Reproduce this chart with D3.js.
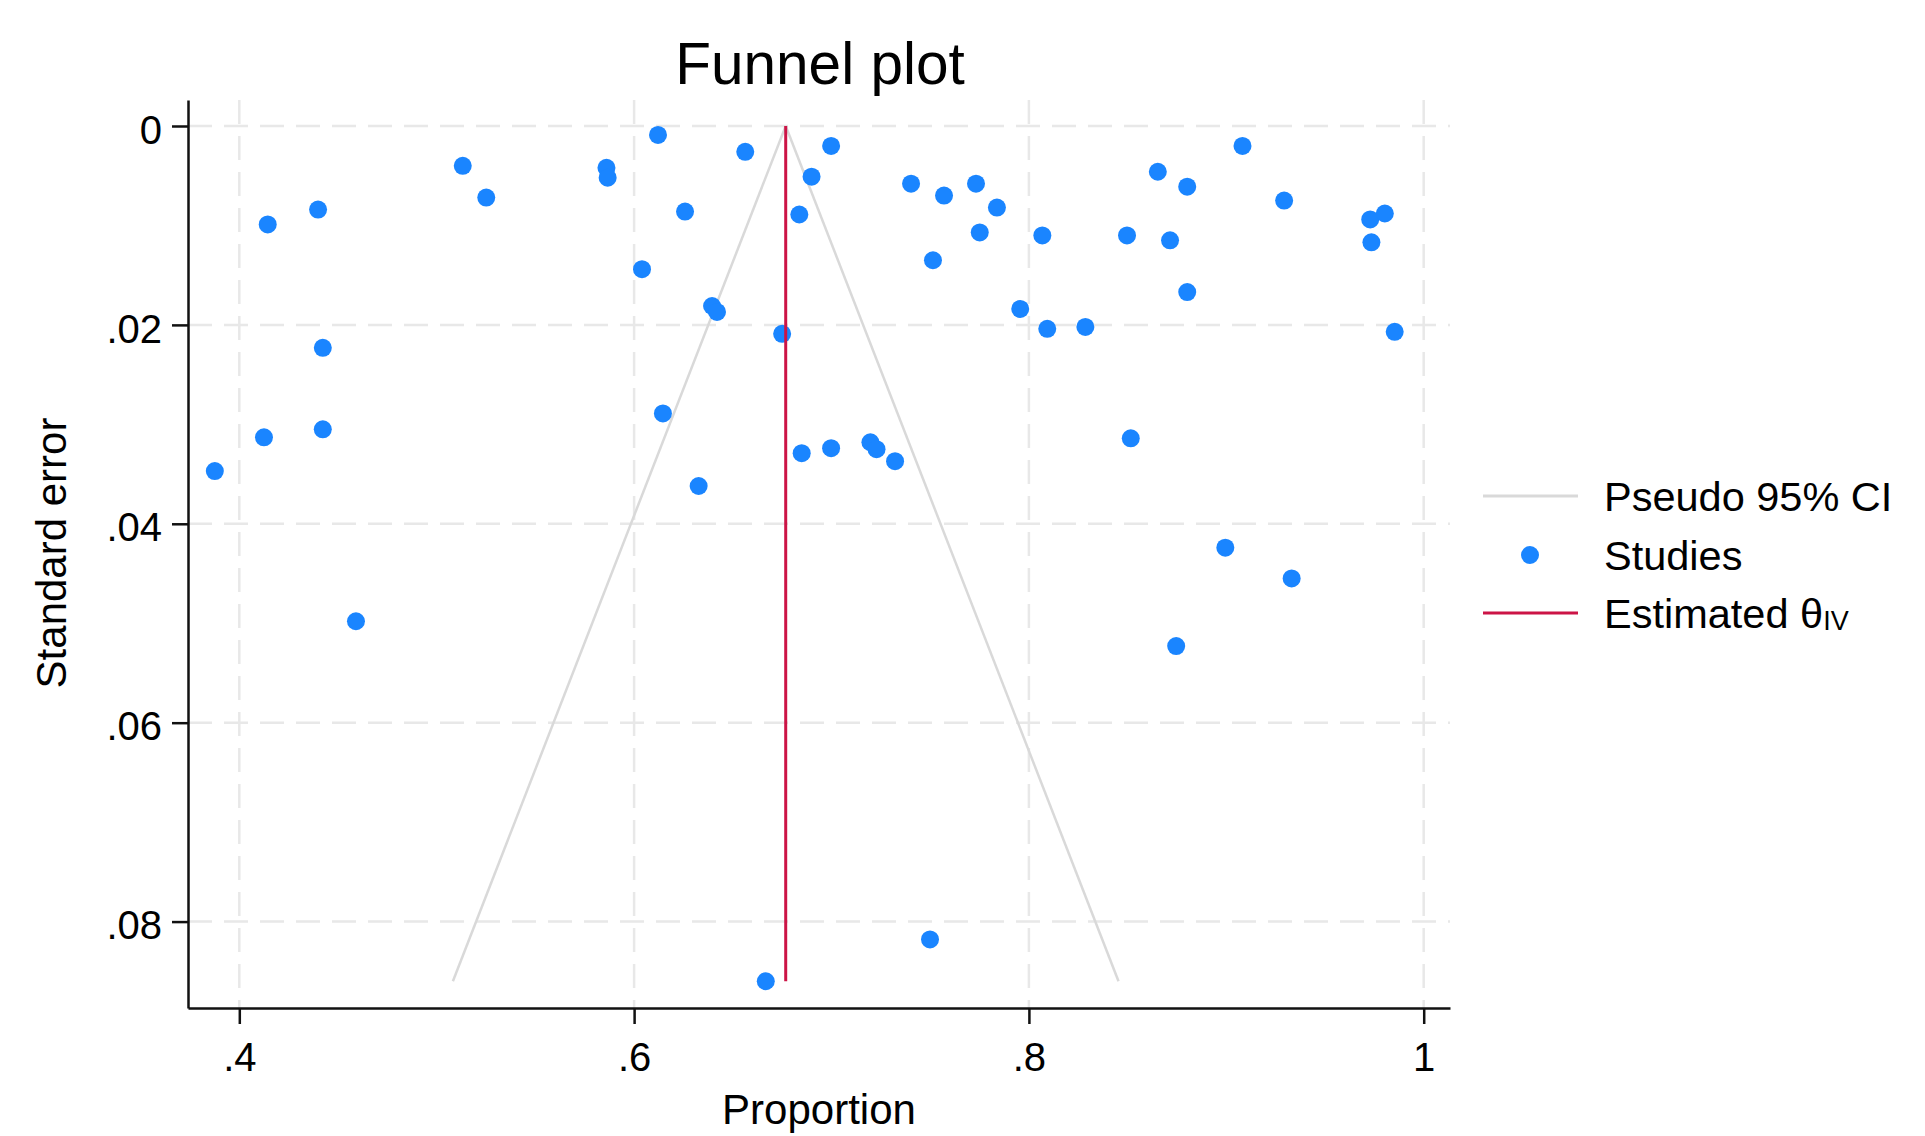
<!DOCTYPE html>
<html>
<head>
<meta charset="utf-8">
<script src="https://cdn.jsdelivr.net/npm/d3@7"></script>
<style>
  body { margin: 0; background: #fff; }
  text { font-family: "Liberation Sans", Arial, sans-serif; fill: #000; }
</style>
</head>
<body>
<div id="chart"></div>
<script>
// study estimates
const proportion = [0.5132, 0.5251, 0.4144, 0.4399, 0.5860, 0.5866, 0.6121, 0.6563, 0.6998, 0.6899,
                    0.6258, 0.6837, 0.6040, 0.6395, 0.6420, 0.6750, 0.7403, 0.7570, 0.7732, 0.7838,
                    0.7751, 0.7514, 0.8068, 0.7956, 0.8093, 0.8286, 0.8653, 0.8802, 0.9082, 0.8497,
                    0.8715, 0.8802, 0.9293, 0.9729, 0.9803, 0.9735, 0.9853, 0.4423, 0.4125, 0.4423,
                    0.3876, 0.4591, 0.6146, 0.6327, 0.6849, 0.6998, 0.7197, 0.7228, 0.7322, 0.8516,
                    0.8995, 0.9331, 0.8746, 0.7499, 0.6667];
const stdError   = [0.0040, 0.0072, 0.0099, 0.0084, 0.0042, 0.0052, 0.0009, 0.0026, 0.0020, 0.0051,
                    0.0086, 0.0089, 0.0144, 0.0181, 0.0187, 0.0209, 0.0058, 0.0070, 0.0058, 0.0082,
                    0.0107, 0.0135, 0.0110, 0.0184, 0.0204, 0.0202, 0.0046, 0.0061, 0.0020, 0.0110,
                    0.0115, 0.0167, 0.0075, 0.0094, 0.0088, 0.0117, 0.0207, 0.0223, 0.0313, 0.0305,
                    0.0347, 0.0498, 0.0289, 0.0362, 0.0329, 0.0324, 0.0318, 0.0325, 0.0337, 0.0314,
                    0.0424, 0.0455, 0.0523, 0.0818, 0.0860];

// pooled estimate and pseudo 95% CI lines
const thetaIV = 0.6768;
const estLine = [[0.6768, 0], [0.6768, 0.0860]];
const ciLeft  = [[0.6768, 0], [0.5082, 0.0860]];
const ciRight = [[0.6768, 0], [0.8454, 0.0860]];

const xTicks = [0.4, 0.6, 0.8, 1];
const yTicks = [0, 0.02, 0.04, 0.06, 0.08];
const legendLabels = ["Pseudo 95% CI", "Studies", "Estimated θ"];

const W = 1925, H = 1136;
const pLeft = 188, pRight = 1450, pTop = 100, pBottom = 1008;

const svg = d3.select("#chart").append("svg").attr("width", W).attr("height", H);

const x = d3.scaleLinear().domain([0.37401, 1.01332]).range([pLeft, pRight]);
const y = d3.scaleLinear().domain([-0.002614, 0.08869]).range([pTop, pBottom]);

const fmt = function (d) {
    if (d === 0) return "0";
    return d3.format("~g")(d).replace(/^0\./, ".");
};

// grid
const grid = svg.append("g");
grid.selectAll(".hg").data(yTicks).enter().append("line")
    .attr("x1", pLeft).attr("x2", pRight)
    .attr("y1", d => y(d)).attr("y2", d => y(d))
    .attr("stroke", "#e8e8e8").attr("stroke-width", 2.5).attr("stroke-dasharray", "24,12");
grid.selectAll(".vg").data(xTicks).enter().append("line")
    .attr("x1", d => x(d)).attr("x2", d => x(d))
    .attr("y1", pTop).attr("y2", pBottom)
    .attr("stroke", "#e8e8e8").attr("stroke-width", 2.5).attr("stroke-dasharray", "24,12");

const line = d3.line().x(d => x(d[0])).y(d => y(d[1]));

// funnel
svg.append("path").datum(ciLeft).attr("d", line)
    .attr("fill", "none").attr("stroke", "#d9d9d9").attr("stroke-width", 2.5);
svg.append("path").datum(ciRight).attr("d", line)
    .attr("fill", "none").attr("stroke", "#d9d9d9").attr("stroke-width", 2.5);

// studies
svg.append("g").selectAll("circle").data(proportion).enter().append("circle")
    .attr("cx", d => x(d))
    .attr("cy", (d, i) => y(stdError[i]))
    .attr("r", 9)
    .attr("fill", "#1a85ff");

// estimate
svg.append("path").datum(estLine).attr("d", line)
    .attr("fill", "none").attr("stroke", "#cc1446").attr("stroke-width", 3);

// axes
const yAxis = svg.append("g").attr("transform", "translate(" + pLeft + ",0)")
    .call(d3.axisLeft(y).tickValues(yTicks).tickFormat(fmt).tickSize(16).tickSizeOuter(0).tickPadding(10));
const xAxis = svg.append("g").attr("transform", "translate(0," + pBottom + ")")
    .call(d3.axisBottom(x).tickValues(xTicks).tickFormat(fmt).tickSize(16).tickSizeOuter(0).tickPadding(19));

[yAxis, xAxis].forEach(function (a) {
    a.select(".domain").attr("stroke", "#111").attr("stroke-width", 2.5);
    a.selectAll(".tick line").attr("stroke", "#111").attr("stroke-width", 2.5);
    a.selectAll(".tick text").attr("font-size", 40).attr("font-family", "Liberation Sans, Arial, sans-serif").attr("fill", "#000");
});
yAxis.selectAll(".tick text").attr("dy", "0.43em");

// titles
svg.append("text").attr("x", 820).attr("y", 84).attr("text-anchor", "middle")
    .attr("font-size", 58.5).text("Funnel plot");
svg.append("text").attr("x", 819).attr("y", 1124).attr("text-anchor", "middle")
    .attr("font-size", 42).text("Proportion");
svg.append("text").attr("transform", "translate(66,553) rotate(-90)").attr("text-anchor", "middle")
    .attr("font-size", 42).text("Standard error");

// legend
const lg = svg.append("g");
const lx = 1483, ly = [496, 555, 613];
lg.append("line").attr("x1", lx).attr("x2", lx + 95).attr("y1", ly[0]).attr("y2", ly[0])
    .attr("stroke", "#d9d9d9").attr("stroke-width", 3);
lg.append("circle").attr("cx", 1530).attr("cy", ly[1]).attr("r", 9).attr("fill", "#1a85ff");
lg.append("line").attr("x1", lx).attr("x2", lx + 95).attr("y1", ly[2]).attr("y2", ly[2])
    .attr("stroke", "#cc1446").attr("stroke-width", 3);
lg.selectAll(".lt").data(legendLabels).enter().append("text")
    .attr("class", "lt")
    .attr("x", 1604).attr("y", (d, i) => ly[i] + 15)
    .attr("font-size", 41.5)
    .text(d => d);
lg.selectAll(".lt").filter((d, i) => i === 2)
    .append("tspan").attr("font-size", 27).attr("dy", 2).text("IV");
</script>
</body>
</html>
